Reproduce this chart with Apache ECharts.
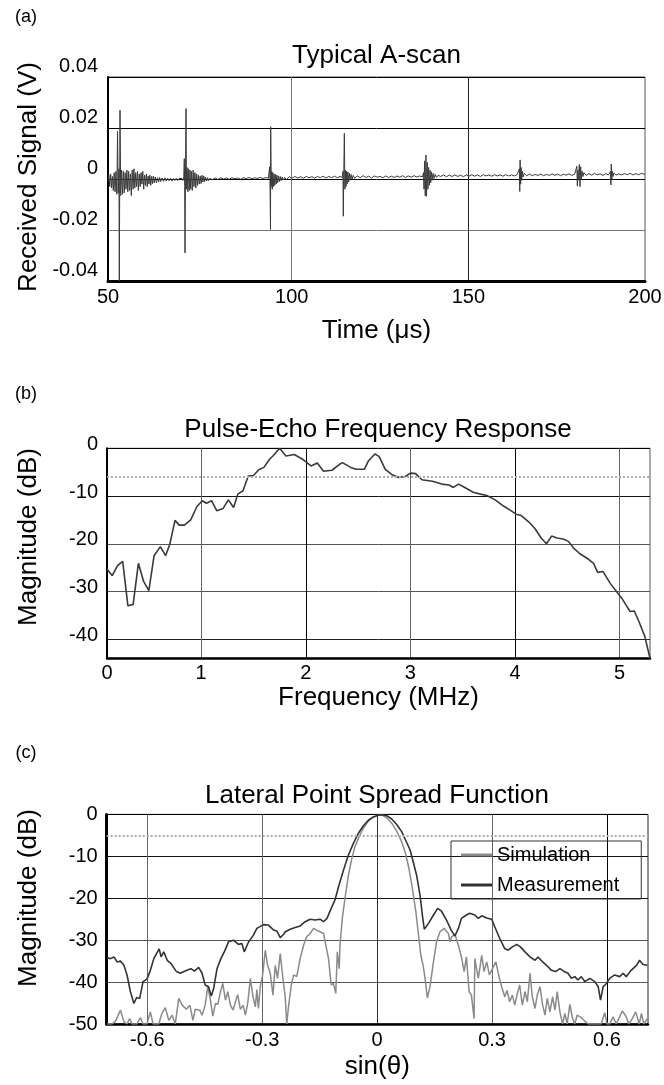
<!DOCTYPE html>
<html><head><meta charset="utf-8">
<script src="https://cdn.jsdelivr.net/npm/echarts@6.0.0/dist/echarts.min.js"></script>
<style>html,body{margin:0;padding:0;background:#fff}#c{width:664px;height:1085px}</style>
</head><body><div id="c"></div>
<script>
const FONT = "'Liberation Sans', Arial, Helvetica, sans-serif";

// ---------- (a) Typical A-scan : [time (us), received signal (V)] ----------
const ascanSignal = [
[48.0,-0.0010],[48.25,0.0015],[48.5,-0.0030],[48.75,0.0020],[49.0,-0.0035],[49.25,0.0010],[49.5,-0.0045],[49.75,0.0025],
[50.0,-0.0050],[50.25,0.0030],[50.5,-0.0060],[50.7,0.0187],[50.9,-0.0055],[51.1,0.0040],[51.2,-0.0400],[51.4,0.0270],
[51.6,-0.0065],[51.85,0.0035],[52.1,-0.0060],[52.35,0.0030],[52.6,-0.0055],[52.85,0.0025],[53.1,-0.0040],[53.35,0.0035],
[53.6,-0.0050],[53.85,0.0030],[54.1,-0.0045],[54.35,0.0020],[54.6,-0.0065],[54.85,0.0035],[55.1,-0.0040],[55.35,0.0040],
[55.6,-0.0035],[55.85,0.0025],[56.1,-0.0030],[56.35,0.0030],[56.6,-0.0045],[56.85,0.0020],[57.1,-0.0030],[57.35,0.0025],
[57.6,-0.0020],[57.85,0.0030],[58.1,-0.0040],[58.35,0.0015],[58.6,-0.0025],[58.85,0.0020],[59.1,-0.0030],[59.35,0.0012],
[59.6,-0.0020],[59.85,0.0015],[60.1,-0.0025],[60.35,0.0010],[60.6,-0.0018],[60.85,0.0012],[61.1,-0.0015],[61.4,0.0008],
[61.7,-0.0015],[62.0,0.0005],[62.3,-0.0012],[62.6,0.0006],[62.9,-0.0010],[63.3,0.0004],[63.7,-0.0009],[64.1,0.0005],
[64.5,-0.0008],[64.9,0.0003],[65.3,-0.0007],[65.7,0.0003],[66.1,-0.0008],[66.5,0.0002],[66.9,-0.0006],[67.3,0.0003],
[67.7,-0.0006],[68.1,0.0002],[68.5,-0.0005],[68.9,0.0002],[69.2,-0.0006],
[69.45,0.0010],[69.6,0.0080],[69.7,-0.0030],[69.8,-0.0290],[69.95,0.0060],[70.08,0.0276],[70.2,-0.0040],[70.4,0.0045],
[70.6,-0.0050],[70.8,0.0040],[71.0,-0.0045],[71.2,0.0035],[71.4,-0.0040],[71.6,0.0030],[71.85,-0.0045],[72.1,0.0035],
[72.35,-0.0030],[72.6,0.0025],[72.85,-0.0035],[73.1,0.0020],[73.35,-0.0025],[73.6,0.0015],[73.85,-0.0020],[74.1,0.0012],
[74.35,-0.0018],[74.6,0.0015],[74.85,-0.0012],[75.1,0.0012],[75.35,-0.0010],[75.6,0.0008],[75.9,-0.0008],[76.2,0.0005],
[76.5,-0.0006],[76.9,0.0003],
[77.5,-0.0003],[78.3,0.0004],[79.1,-0.0002],[79.9,0.0005],[80.7,0.0000],[81.5,0.0004],[82.3,-0.0001],[83.1,0.0005],
[83.9,0.0001],[84.7,0.0004],[85.5,-0.0001],[86.3,0.0005],[87.1,0.0002],[87.9,0.0006],[88.7,0.0001],[89.5,0.0005],
[90.3,0.0002],[91.1,0.0006],[91.9,0.0002],[92.7,0.0006],[93.4,0.0003],
[93.6,0.0010],[93.75,0.0048],[93.85,-0.0010],[94.0,-0.0198],[94.05,0.0205],[94.2,-0.0030],[94.35,0.0030],[94.5,-0.0040],
[94.65,0.0025],[94.8,-0.0030],[95.0,0.0020],[95.2,-0.0025],[95.4,0.0018],[95.6,-0.0020],[95.8,0.0015],[96.0,-0.0015],
[96.25,0.0012],[96.5,-0.0010],[96.75,0.0010],[97.0,-0.0006],[97.3,0.0008],[97.6,-0.0004],[98.0,0.0006],[98.5,-0.0002],
[99.3,0.0009],[100.1,0.0003],[100.9,0.0010],[101.7,0.0004],[102.5,0.0009],[103.3,0.0003],[104.1,0.0010],[104.9,0.0005],
[105.7,0.0009],[106.5,0.0004],[107.3,0.0010],[108.1,0.0005],[108.9,0.0011],[109.7,0.0004],[110.5,0.0010],[111.3,0.0005],
[112.1,0.0011],[112.9,0.0005],[113.7,0.0010],[114.3,0.0006],
[114.5,0.0030],[114.6,-0.0146],[114.75,0.0040],[114.9,0.0179],[115.05,-0.0040],[115.2,0.0035],[115.35,-0.0030],[115.5,0.0030],
[115.7,-0.0020],[115.9,0.0028],[116.1,-0.0012],[116.3,0.0022],[116.55,-0.0005],[116.8,0.0018],[117.1,0.0000],[117.4,0.0014],
[117.8,0.0003],
[118.6,0.0012],[119.4,0.0005],[120.2,0.0013],[121.0,0.0006],[121.8,0.0011],[122.6,0.0004],[123.4,0.0012],[124.2,0.0007],
[125.0,0.0010],[125.8,0.0005],[126.6,0.0012],[127.4,0.0006],[128.2,0.0011],[129.0,0.0006],[129.8,0.0012],[130.6,0.0007],
[131.4,0.0013],[132.2,0.0006],[133.0,0.0012],[133.8,0.0007],[134.6,0.0013],[135.4,0.0008],[136.2,0.0012],[137.0,0.0008],
[137.3,0.0025],[137.45,-0.0040],[137.6,0.0071],[137.8,-0.0066],[138.0,0.0094],[138.15,-0.0068],[138.35,0.0065],[138.55,-0.0040],
[138.75,0.0045],[138.95,-0.0025],[139.15,0.0035],[139.35,-0.0015],[139.55,0.0028],[139.75,-0.0005],[140.0,0.0022],[140.3,0.0002],
[140.6,0.0018],[141.0,0.0006],[141.4,0.0014],
[142.2,0.0010],[143.0,0.0016],[143.8,0.0009],[144.6,0.0015],[145.4,0.0010],[146.2,0.0016],[147.0,0.0010],[147.8,0.0015],
[148.6,0.0009],[149.4,0.0016],[150.2,0.0011],[151.0,0.0017],[151.8,0.0011],[152.6,0.0016],[153.4,0.0010],[154.2,0.0017],
[155.0,0.0012],[155.8,0.0016],[156.6,0.0011],[157.4,0.0017],[158.2,0.0012],[159.0,0.0016],[159.8,0.0011],[160.6,0.0017],
[161.4,0.0012],[162.2,0.0016],[163.0,0.0012],[163.8,0.0017],[164.3,0.0013],
[164.45,0.0040],[164.55,-0.0049],[164.65,0.0075],[164.8,-0.0020],[164.95,0.0045],[165.1,-0.0005],[165.3,0.0030],[165.5,0.0008],
[165.8,0.0022],
[166.5,0.0013],[167.3,0.0019],[168.1,0.0013],[168.9,0.0018],[169.7,0.0014],[170.5,0.0019],[171.3,0.0013],[172.1,0.0018],
[172.9,0.0014],[173.7,0.0020],[174.5,0.0014],[175.3,0.0019],[176.1,0.0013],[176.9,0.0019],[177.7,0.0015],[178.5,0.0020],
[179.3,0.0014],[180.1,0.0019],[180.5,0.0015],
[180.7,0.0050],[180.85,-0.0028],[181.0,0.0035],[181.2,-0.0005],[181.4,0.0057],[181.6,-0.0030],[181.8,0.0048],[182.0,0.0000],
[182.2,0.0030],[182.45,0.0010],[182.7,0.0025],
[183.3,0.0014],[184.1,0.0021],[184.9,0.0015],[185.7,0.0022],[186.5,0.0016],[187.3,0.0020],[188.1,0.0014],[188.9,0.0021],
[189.7,0.0016],[190.1,0.0019],
[190.25,0.0030],[190.35,-0.0023],[190.45,0.0059],[190.6,0.0000],[190.75,0.0030],[190.95,0.0010],[191.2,0.0024],
[191.8,0.0015],[192.6,0.0020],[193.4,0.0016],[194.2,0.0021],[195.0,0.0017],[195.8,0.0022],[196.6,0.0016],[197.4,0.0021],
[198.2,0.0017],[199.0,0.0022],[200.0,0.0018]
];
const ascanXRange = [48, 200];
const ascanXGrid = [100, 150];
const ascanXTickValues = [48, 100, 150, 200];
const ascanXTickLabels = ['50', '100', '150', '200'];
const ascanYTickValues = [-0.04, -0.02, 0, 0.02, 0.04];
const ascanYTickLabels = ['-0.04', '-0.02', '0', '0.02', '0.04'];

// ---------- (b) Pulse-echo frequency response : [MHz, dB] ----------
const freqResponse = [
[0.10,-25.3],[0.15,-26.7],[0.20,-24.6],[0.25,-23.7],[0.30,-33.0],[0.35,-32.7],[0.40,-24.1],[0.45,-27.9],[0.50,-29.8],
[0.55,-22.5],[0.61,-20.6],[0.66,-22.5],[0.70,-20.1],[0.75,-15.1],[0.79,-16.1],[0.84,-16.1],[0.90,-15.0],[0.96,-12.2],
[1.01,-11.0],[1.05,-11.5],[1.10,-11.0],[1.15,-13.1],[1.21,-12.6],[1.26,-10.8],[1.31,-12.4],[1.35,-9.6],[1.40,-8.9],
[1.45,-5.8],[1.50,-5.7],[1.55,-4.5],[1.60,-4.0],[1.65,-2.4],[1.69,-1.5],[1.75,0],[1.81,-1.6],[1.89,-1.3],[1.97,-2.3],
[2.01,-3.0],[2.05,-3.7],[2.11,-3.1],[2.17,-4.8],[2.25,-4.6],[2.32,-3.4],[2.35,-3.0],[2.43,-4.0],[2.48,-4.4],[2.56,-4.4],
[2.60,-2.6],[2.66,-1.2],[2.70,-1.7],[2.76,-4.4],[2.83,-5.6],[2.89,-6.1],[2.95,-5.9],[3.00,-5.2],[3.05,-5.3],[3.11,-6.6],
[3.21,-6.9],[3.30,-7.5],[3.37,-7.7],[3.41,-8.2],[3.46,-7.5],[3.52,-8.2],[3.60,-9.2],[3.67,-9.6],[3.73,-9.9],[3.81,-10.8],
[3.89,-12.1],[3.95,-12.9],[4.01,-13.8],[4.06,-14.1],[4.13,-15.4],[4.19,-16.8],[4.25,-18.8],[4.30,-20.0],[4.35,-18.4],
[4.40,-18.8],[4.46,-19.0],[4.51,-19.5],[4.56,-20.9],[4.62,-22.1],[4.70,-23.2],[4.75,-24.1],[4.79,-26.0],[4.84,-25.8],
[4.91,-28.3],[4.97,-30.0],[5.02,-31.4],[5.06,-32.8],[5.10,-34.2],[5.14,-34.1],[5.19,-36.6],[5.24,-39.4],[5.29,-44.0]
];
const freqXRange = [0.1, 5.29];
const freqXGrid = [1, 2, 3, 4, 5];
const freqXTickValues = [0.1, 1, 2, 3, 4, 5];
const freqXTickLabels = ['0', '1', '2', '3', '4', '5'];
const freqYRange = [-44, 0];
const freqYGrid = [-40, -30, -20, -10, 0];
const freqYTickLabels = ['-40', '-30', '-20', '-10', '0'];
const freqRefLevel = -6;

// ---------- (c) Lateral point spread function : [sin(theta), dB] ----------
const psfSimulation = [
[-0.705,-50],[-0.692,-50],[-0.683,-49.3],[-0.670,-46.7],[-0.661,-49.5],[-0.653,-50],[-0.646,-48.7],[-0.640,-50],
[-0.627,-50],[-0.618,-48.5],[-0.611,-50],[-0.601,-50],[-0.592,-47.1],[-0.585,-50],[-0.570,-50],[-0.562,-47.5],
[-0.553,-46.1],[-0.544,-49.1],[-0.535,-47.9],[-0.527,-50],[-0.518,-43.9],[-0.509,-45.5],[-0.498,-46.5],[-0.489,-45.5],
[-0.481,-49.1],[-0.475,-46.5],[-0.463,-46.7],[-0.457,-47.9],[-0.449,-45.5],[-0.442,-41.1],[-0.436,-43.9],[-0.429,-48.1],
[-0.422,-45.1],[-0.416,-45.3],[-0.409,-42.3],[-0.403,-40.3],[-0.396,-44.3],[-0.390,-42.3],[-0.383,-45.5],[-0.376,-46.7],
[-0.370,-44.7],[-0.364,-43.0],[-0.357,-46.5],[-0.350,-45.5],[-0.344,-47.9],[-0.338,-45.1],[-0.331,-39.1],[-0.324,-43.5],
[-0.318,-45.9],[-0.314,-41.8],[-0.310,-46.3],[-0.305,-41.1],[-0.299,-38.3],[-0.292,-32.4],[-0.286,-36.0],[-0.279,-37.9],
[-0.272,-43.1],[-0.266,-36.0],[-0.260,-39.1],[-0.253,-33.2],[-0.246,-39.1],
[-0.240,-43.5],[-0.236,-50],[-0.231,-45.5],[-0.224,-40.7],[-0.218,-38.3],[-0.210,-38.7],[-0.201,-34.4],[-0.192,-31.2],
[-0.184,-29.2],[-0.175,-28.4],[-0.166,-27.2],[-0.158,-27.6],[-0.149,-28.0],[-0.140,-28.4],[-0.134,-31.2],[-0.127,-34.4],
[-0.120,-40.7],[-0.114,-40.3],[-0.108,-42.7],[-0.104,-32.8],[-0.099,-36.8],[-0.097,-31.2],[-0.091,-24.8],[-0.084,-20.0],
[-0.075,-14.5],[-0.066,-10.5],[-0.058,-7.7],[-0.047,-5.3],[-0.036,-3.3],[-0.023,-1.6],[-0.010,-0.6],[0.003,-0.2],
[0.014,-0.2],[0.025,-0.8],[0.038,-2.1],[0.051,-4.0],[0.064,-6.5],[0.074,-9.3],[0.083,-12.9],[0.092,-17.7],
[0.101,-23.2],[0.107,-28.0],[0.114,-33.6],[0.120,-36.0],[0.125,-39.1],[0.131,-43.8],[0.138,-41.1],[0.147,-35.2],
[0.155,-30.4],[0.164,-28.0],[0.175,-27.2],[0.186,-28.4],[0.190,-30.4],[0.194,-29.2],[0.203,-28.6],[0.212,-31.2],
[0.220,-34.0],[0.227,-37.5],[0.233,-34.0],[0.240,-42.3],[0.246,-43.1],[0.253,-48.7],
[0.255,-34.4],[0.264,-39.1],[0.273,-33.6],[0.279,-37.5],[0.286,-35.2],[0.293,-38.3],[0.301,-36.8],[0.310,-35.2],
[0.319,-39.1],[0.325,-41.1],[0.333,-43.5],[0.339,-42.0],[0.346,-44.7],[0.353,-43.1],[0.359,-45.5],[0.366,-42.7],
[0.372,-40.7],[0.379,-45.5],[0.386,-42.3],[0.392,-44.7],[0.399,-37.9],[0.405,-43.5],[0.412,-46.3],[0.418,-43.1],
[0.425,-41.1],[0.432,-45.5],[0.438,-47.9],[0.444,-43.9],[0.451,-47.1],[0.458,-43.5],[0.464,-46.7],[0.470,-42.3],
[0.477,-47.1],[0.484,-50],[0.490,-47.5],[0.496,-50],[0.503,-45.3],[0.510,-48.7],[0.516,-50],[0.522,-47.9],
[0.533,-48.5],[0.542,-49.3],[0.551,-50],[0.564,-50],[0.574,-50],[0.585,-50],[0.594,-47.3],[0.600,-50],
[0.607,-50],[0.616,-48.3],[0.624,-50],[0.633,-48.3],[0.640,-46.9],[0.649,-48.1],[0.657,-50],[0.666,-48.7],
[0.675,-47.1],[0.684,-50],[0.690,-47.5],[0.696,-50],[0.705,-48.7]
];
const psfMeasurement = [
[-0.705,-34.2],[-0.696,-34.4],[-0.687,-34.0],[-0.679,-35.2],[-0.670,-35.0],[-0.661,-36.0],[-0.653,-38.3],[-0.644,-42.3],
[-0.635,-45.1],[-0.628,-43.7],[-0.620,-43.9],[-0.611,-39.9],[-0.601,-39.3],[-0.592,-37.2],[-0.583,-34.4],[-0.576,-33.2],
[-0.569,-32.1],[-0.564,-34.0],[-0.557,-32.8],[-0.548,-34.8],[-0.538,-35.6],[-0.524,-37.5],[-0.514,-37.9],[-0.503,-37.4],
[-0.495,-37.1],[-0.486,-36.8],[-0.477,-37.4],[-0.466,-36.5],[-0.457,-37.9],[-0.449,-40.7],[-0.440,-41.1],[-0.433,-43.3],
[-0.427,-41.6],[-0.418,-36.8],[-0.408,-34.4],[-0.399,-32.8],[-0.388,-30.4],[-0.375,-30.0],[-0.362,-31.0],[-0.353,-30.8],
[-0.347,-32.8],[-0.336,-30.5],[-0.323,-28.8],[-0.314,-27.2],[-0.297,-26.3],[-0.284,-26.4],[-0.270,-27.6],[-0.262,-27.8],
[-0.253,-29.4],[-0.244,-28.6],
[-0.240,-28.0],[-0.227,-27.4],[-0.214,-27.0],[-0.201,-26.6],[-0.188,-25.6],[-0.175,-25.0],[-0.162,-25.2],[-0.149,-25.0],
[-0.140,-25.6],[-0.131,-24.8],[-0.118,-22.0],[-0.110,-20.4],[-0.101,-17.3],[-0.088,-13.3],[-0.075,-9.7],[-0.062,-6.9],
[-0.049,-4.5],[-0.036,-2.7],[-0.023,-1.4],[-0.010,-0.6],[0.003,-0.2],[0.014,-0.1],[0.025,-0.3],[0.038,-1.1],
[0.051,-2.4],[0.064,-4.1],[0.074,-6.1],[0.086,-8.5],[0.094,-11.3],[0.103,-14.5],[0.112,-19.3],[0.118,-24.0],
[0.123,-27.4],[0.134,-26.0],[0.147,-24.0],[0.158,-22.4],[0.168,-23.1],[0.181,-25.2],[0.193,-27.6],[0.203,-29.0],
[0.212,-27.2],[0.220,-24.8],[0.233,-24.0],
[0.242,-23.6],[0.255,-24.0],[0.264,-24.8],[0.273,-24.2],[0.286,-24.7],[0.299,-25.0],[0.307,-26.8],[0.320,-29.6],
[0.333,-32.0],[0.342,-32.4],[0.353,-31.6],[0.364,-31.0],[0.374,-31.6],[0.386,-32.8],[0.399,-34.0],[0.412,-34.8],
[0.420,-34.0],[0.432,-35.2],[0.442,-36.0],[0.455,-37.2],[0.466,-37.5],[0.477,-36.8],[0.487,-37.4],[0.498,-37.9],
[0.507,-39.1],[0.516,-38.7],[0.524,-39.5],[0.533,-38.7],[0.542,-39.9],[0.555,-39.1],[0.568,-39.9],[0.577,-41.1],
[0.583,-44.3],[0.590,-41.1],[0.598,-40.4],[0.607,-39.1],[0.620,-38.3],[0.633,-38.7],[0.642,-37.9],[0.650,-38.7],
[0.663,-37.2],[0.677,-36.0],[0.685,-34.8],[0.694,-35.8],[0.705,-36.0]
];
const psfXRange = [-0.706, 0.707];
const psfXGrid = [-0.6, -0.3, 0, 0.3, 0.6];
const psfXTickLabels = ['-0.6', '-0.3', '0', '0.3', '0.6'];
const psfYRange = [-50, 0];
const psfYTickValues = [-50, -40, -30, -20, -10, 0];
const psfYTickLabels = ['-50', '-40', '-30', '-20', '-10', '0'];
const psfRefLevel = -5;
const psfSeriesNames = ['Simulation', 'Measurement'];

// ---------- helpers ----------
function lookup(values, labels) {
  return function (v) {
    let best = 0, d = Infinity;
    for (let i = 0; i < values.length; i++) {
      const dd = Math.abs(values[i] - v);
      if (dd < d) { d = dd; best = i; }
    }
    return d < 1e-6 ? labels[best] : '';
  };
}
const labelText = { fontSize: 20, color: '#000', fontFamily: FONT };
const nameText = { fontSize: 26, color: '#000', fontFamily: FONT };

const chart = echarts.init(document.getElementById('c'), null, { renderer: 'canvas' });

const option = {
  animation: false,
  backgroundColor: '#fff',
  textStyle: { fontFamily: FONT },
  grid: [
    { left: 108, top: 77, width: 537, height: 204, show: true, borderColor: '#555', borderWidth: 1, containLabel: false, outerBoundsMode: 'none' },
    { left: 107, top: 448.3, width: 543, height: 210, show: true, borderColor: '#555', borderWidth: 1, containLabel: false, outerBoundsMode: 'none' },
    { left: 106.7, top: 814.4, width: 541.3, height: 209.6, show: true, borderColor: '#222', borderWidth: 1, containLabel: false, outerBoundsMode: 'none' }
  ],
  xAxis: [
    {
      gridIndex: 0, type: 'value', min: ascanXRange[0], max: ascanXRange[1],
      axisLine: { show: true, onZero: false, lineStyle: { color: '#000', width: 3 } },
      axisTick: { show: false, customValues: ascanXGrid },
      splitLine: { show: true, customValues: ascanXGrid, lineStyle: { color: ['#777', '#222'], width: 1 } },
      axisLabel: Object.assign({ customValues: ascanXTickValues, formatter: lookup(ascanXTickValues, ascanXTickLabels), margin: 6 }, labelText),
      name: 'Time (μs)', nameLocation: 'middle', nameGap: 37, nameTextStyle: nameText
    },
    {
      gridIndex: 1, type: 'value', min: freqXRange[0], max: freqXRange[1],
      axisLine: { show: true, onZero: false, lineStyle: { color: '#000', width: 2.5 } },
      axisTick: { show: false, customValues: freqXGrid },
      splitLine: { show: true, customValues: freqXGrid, lineStyle: { color: ['#666', '#000', '#666', '#000', '#666'], width: 1 } },
      axisLabel: Object.assign({ customValues: freqXTickValues, formatter: lookup(freqXTickValues, freqXTickLabels), margin: 5 }, labelText),
      name: 'Frequency (MHz)', nameLocation: 'middle', nameGap: 27, nameTextStyle: nameText
    },
    {
      gridIndex: 2, type: 'value', min: psfXRange[0], max: psfXRange[1],
      axisLine: { show: true, onZero: false, lineStyle: { color: '#000', width: 2.5 } },
      axisTick: { show: false, customValues: psfXGrid },
      splitLine: { show: true, customValues: psfXGrid, lineStyle: { color: ['#666', '#666', '#333', '#666', '#000'], width: 1 } },
      axisLabel: Object.assign({ customValues: psfXGrid, formatter: lookup(psfXGrid, psfXTickLabels), margin: 6 }, labelText),
      name: 'sin(θ)', nameLocation: 'middle', nameGap: 30, nameTextStyle: nameText
    }
  ],
  yAxis: [
    {
      gridIndex: 0, type: 'value', min: -0.04, max: 0.04, interval: 0.02,
      axisLine: { show: true, onZero: false, lineStyle: { color: '#000', width: 2 } },
      axisTick: { show: false },
      splitLine: { show: true, lineStyle: { color: ['#000', '#777', '#000', '#000', '#000'], width: 1 } },
      axisLabel: Object.assign({ formatter: lookup(ascanYTickValues, ascanYTickLabels), margin: 10, verticalAlign: 'bottom', lineHeight: 21 }, labelText)
    },
    {
      gridIndex: 1, type: 'value', min: freqYRange[0], max: freqYRange[1],
      axisLine: { show: true, onZero: false, lineStyle: { color: '#000', width: 2 } },
      axisTick: { show: false, customValues: freqYGrid },
      splitLine: { show: true, customValues: freqYGrid, lineStyle: { color: ['#222', '#555', '#555', '#111', '#000'], width: 1 } },
      axisLabel: Object.assign({ customValues: freqYGrid, formatter: lookup(freqYGrid, freqYTickLabels), margin: 9, verticalAlign: 'bottom', lineHeight: 8 }, labelText)
    },
    {
      gridIndex: 2, type: 'value', min: psfYRange[0], max: psfYRange[1], interval: 10,
      axisLine: { show: true, onZero: false, lineStyle: { color: '#000', width: 3 } },
      axisTick: { show: false },
      splitLine: { show: true, lineStyle: { color: ['#000', '#555', '#555', '#111', '#111', '#000'], width: 1 } },
      axisLabel: Object.assign({ formatter: lookup(psfYTickValues, psfYTickLabels), margin: 9 }, labelText)
    }
  ],
  legend: {
    data: psfSeriesNames, orient: 'vertical', left: 451, top: 841,
    itemWidth: 31, itemHeight: 3, itemGap: 10, icon: 'rect',
    borderColor: '#333', borderWidth: 1, padding: [4, 22, 4, 10],
    textStyle: { fontSize: 20, color: '#000', fontFamily: FONT }
  },
  graphic: [
    { type: 'text', x: 26, y: 17, style: { text: '(a)', fontSize: 18, fontFamily: FONT, fill: '#000', align: 'center', verticalAlign: 'middle' } },
    { type: 'text', x: 26, y: 394, style: { text: '(b)', fontSize: 18, fontFamily: FONT, fill: '#000', align: 'center', verticalAlign: 'middle' } },
    { type: 'text', x: 26, y: 753, style: { text: '(c)', fontSize: 18, fontFamily: FONT, fill: '#000', align: 'center', verticalAlign: 'middle' } },
    { type: 'text', x: 376.5, y: 56, style: { text: 'Typical A-scan', fontSize: 26, fontFamily: FONT, fill: '#000', align: 'center', verticalAlign: 'middle' } },
    { type: 'text', x: 378, y: 430, style: { text: 'Pulse-Echo Frequency Response', fontSize: 26, fontFamily: FONT, fill: '#000', align: 'center', verticalAlign: 'middle' } },
    { type: 'text', x: 377, y: 796, style: { text: 'Lateral Point Spread Function', fontSize: 26, fontFamily: FONT, fill: '#000', align: 'center', verticalAlign: 'middle' } },
    { type: 'text', x: 28.5, y: 177, rotation: Math.PI / 2, style: { text: 'Received Signal (V)', fontSize: 26, fontFamily: FONT, fill: '#000', align: 'center', verticalAlign: 'middle' } },
    { type: 'text', x: 28.5, y: 537, rotation: Math.PI / 2, style: { text: 'Magnitude (dB)', fontSize: 26, fontFamily: FONT, fill: '#000', align: 'center', verticalAlign: 'middle' } },
    { type: 'text', x: 28.5, y: 898, rotation: Math.PI / 2, style: { text: 'Magnitude (dB)', fontSize: 26, fontFamily: FONT, fill: '#000', align: 'center', verticalAlign: 'middle' } }
  ],
  series: [
    {
      name: 'A-scan', type: 'line', xAxisIndex: 0, yAxisIndex: 0, data: ascanSignal,
      symbol: 'none', showSymbol: false, clip: true, lineStyle: { color: '#3a3a3a', width: 1 }
    },
    {
      name: 'Frequency Response', type: 'line', xAxisIndex: 1, yAxisIndex: 1, data: freqResponse,
      symbol: 'none', showSymbol: false, clip: true, lineStyle: { color: '#3a3a3a', width: 1.6 },
      markLine: { silent: true, symbol: 'none', label: { show: false }, lineStyle: { color: '#aaa', type: 'dotted', width: 2 }, data: [{ yAxis: freqRefLevel }] }
    },
    {
      name: psfSeriesNames[0], type: 'line', xAxisIndex: 2, yAxisIndex: 2, data: psfSimulation,
      symbol: 'none', showSymbol: false, clip: true, color: '#8a8a8a', lineStyle: { color: '#8a8a8a', width: 1.5 }, itemStyle: { color: '#8a8a8a' },
      markLine: { silent: true, symbol: 'none', label: { show: false }, lineStyle: { color: '#aaa', type: 'dotted', width: 2 }, data: [{ yAxis: psfRefLevel }] }
    },
    {
      name: psfSeriesNames[1], type: 'line', xAxisIndex: 2, yAxisIndex: 2, data: psfMeasurement,
      symbol: 'none', showSymbol: false, clip: true, color: '#333', lineStyle: { color: '#333', width: 1.6 }, itemStyle: { color: '#333' }
    }
  ]
};
chart.setOption(option);
</script></body></html>
